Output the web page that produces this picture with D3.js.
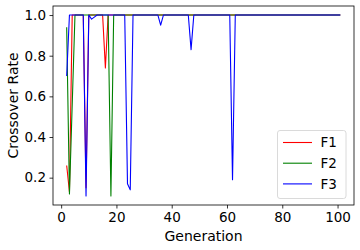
<!DOCTYPE html>
<meta charset="utf-8">

<!-- Load d3.js -->
<script src="https://d3js.org/d3.v7.js"></script>

<style>
  body { margin: 0; background: #fff; }
  text { font-family: "DejaVu Sans", sans-serif; fill: #000; }
</style>

<!-- Create a div where the graph will take place -->
<div id="my_dataviz"></div>

<script>

// generations 2..101
var generations = d3.range(2, 102)

var seriesNames = ["F1", "F2", "F3"]
var seriesColours = ["#ff0000", "#008000", "#0000ff"]

var f1Rate = [
  0.26, 0.13, 1, 1, 1, 1, 1, 0.15, 1, 1,
  1, 1, 1, 1, 0.74, 1, 1, 1, 1, 1,
  1, 1, 1, 1, 1, 1, 1, 1, 1, 1,
  1, 1, 1, 1, 1, 1, 1, 1, 1, 1,
  1, 1, 1, 1, 1, 1, 1, 1, 1, 1,
  1, 1, 1, 1, 1, 1, 1, 1, 1, 1,
  1, 1, 1, 1, 1, 1, 1, 1, 1, 1,
  1, 1, 1, 1, 1, 1, 1, 1, 1, 1,
  1, 1, 1, 1, 1, 1, 1, 1, 1, 1,
  1, 1, 1, 1, 1, 1, 1, 1, 1, 1
]

var f2Rate = [
  0.94, 0.12, 0.56, 1, 1, 1, 1, 1, 1, 1,
  1, 1, 1, 1, 1, 1, 0.11, 1, 1, 1,
  1, 1, 1, 1, 1, 1, 1, 1, 1, 1,
  1, 1, 1, 1, 1, 1, 1, 1, 1, 1,
  1, 1, 1, 1, 1, 1, 1, 1, 1, 1,
  1, 1, 1, 1, 1, 1, 1, 1, 1, 1,
  1, 1, 1, 1, 1, 1, 1, 1, 1, 1,
  1, 1, 1, 1, 1, 1, 1, 1, 1, 1,
  1, 1, 1, 1, 1, 1, 1, 1, 1, 1,
  1, 1, 1, 1, 1, 1, 1, 1, 1, 1
]

var f3Rate = [
  0.70, 1, 1, 1, 1, 1, 1, 0.11, 1, 0.98,
  0.99, 1, 1, 1, 1, 1, 1, 1, 1, 1,
  1, 1, 0.17, 0.14, 1, 1, 1, 1, 1, 1,
  1, 1, 1, 1, 0.95, 1, 1, 1, 1, 1,
  1, 1, 1, 1, 1, 0.83, 1, 1, 1, 1,
  1, 1, 1, 1, 1, 1, 1, 1, 1, 1,
  0.19, 1, 1, 1, 1, 1, 1, 1, 1, 1,
  1, 1, 1, 1, 1, 1, 1, 1, 1, 1,
  1, 1, 1, 1, 1, 1, 1, 1, 1, 1,
  1, 1, 1, 1, 1, 1, 1, 1, 1, 1
]

var xTicks = [0, 20, 40, 60, 80, 100]
var yTicks = [0.2, 0.4, 0.6, 0.8, 1.0]

var allSeries = [f1Rate, f2Rate, f3Rate]

var width = 360,
    height = 250,
    margin = {top: 6, right: 6, bottom: 45, left: 53},
    plot_w = width - margin.left - margin.right,
    plot_h = height - margin.top - margin.bottom;

// matplotlib style 5% padding
var xExt = d3.extent(generations)
var xPad = (xExt[1] - xExt[0]) * 0.05
var yExt = d3.extent([].concat(f1Rate, f2Rate, f3Rate))
var yPad = (yExt[1] - yExt[0]) * 0.05

var xScale = d3.scaleLinear()
    .domain([xExt[0] - xPad, xExt[1] + xPad])
    .range([0, plot_w]);

var yScale = d3.scaleLinear()
    .domain([yExt[0] - yPad, yExt[1] + yPad])
    .range([plot_h, 0]);

var svg = d3.select("#my_dataviz").append("svg")
    .attr("width", width)
    .attr("height", height)
  .append("g")
    .attr("transform", "translate(" + margin.left + "," + margin.top + ")");

var line = d3.line()
    .x(function(d) { return xScale(d[0]); })
    .y(function(d) { return yScale(d[1]); });

allSeries.forEach(function(vals, i) {
  svg.append("path")
    .datum(generations.map(function(g, j) { return [g, vals[j]]; }))
    .attr("fill", "none")
    .attr("stroke", seriesColours[i])
    .attr("stroke-width", 1.1)
    .attr("stroke-linejoin", "round")
    .attr("d", line);
});

var xAxis = d3.axisBottom(xScale)
    .tickValues(xTicks)
    .tickSize(3.5)
    .tickPadding(3.5)
    .tickFormat(d3.format("d"));

var yAxis = d3.axisLeft(yScale)
    .tickValues(yTicks)
    .tickSize(3.5)
    .tickPadding(3.5)
    .tickFormat(d3.format(".1f"));

var gx = svg.append("g")
  .attr("transform", "translate(0," + plot_h + ")")
  .call(xAxis);

var gy = svg.append("g")
  .call(yAxis);

[gx, gy].forEach(function(g) {
  g.select(".domain").remove();
  g.selectAll("line").attr("stroke", "#000").attr("stroke-width", 0.8);
  g.selectAll("text")
    .style("font-family", "DejaVu Sans")
    .style("font-size", "13.5px");
});

// frame
svg.append("rect")
  .attr("x", 0)
  .attr("y", 0)
  .attr("width", plot_w)
  .attr("height", plot_h)
  .attr("fill", "none")
  .attr("stroke", "#000")
  .attr("stroke-width", 0.8);

svg.append("text")
  .attr("x", plot_w / 2)
  .attr("y", 235)
  .attr("text-anchor", "middle")
  .style("font-size", "14px")
  .text("Generation");

svg.append("text")
  .attr("transform", "translate(" + (17.5 - margin.left) + "," + (plot_h / 2) + ")rotate(-90)")
  .attr("text-anchor", "middle")
  .style("font-size", "14px")
  .text("Crossover Rate");

// legend
var legX = 277.5 - margin.left,
    legY = 130.5 - margin.top;

svg.append("rect")
  .attr("x", legX)
  .attr("y", legY)
  .attr("width", 68.5)
  .attr("height", 68)
  .attr("rx", 2.5)
  .attr("fill", "#fff")
  .attr("fill-opacity", 0.8)
  .attr("stroke", "#d0d0d0")
  .attr("stroke-width", 0.8);

var legend = svg.selectAll("legend")
  .data(seriesNames)
  .enter()
  .append("g")
    .attr("transform", function(d, i) { return "translate(" + legX + "," + (legY + 12 + i * 20.7) + ")"; });

legend.append("line")
    .attr("x1", 5.5)
    .attr("x2", 34.5)
    .attr("stroke", function(d, i) { return seriesColours[i]; })
    .attr("stroke-width", 1.1);

legend.append("text")
    .attr("x", 43)
    .attr("dy", ".35em")
    .style("font-size", "13.5px")
    .text(function(d) { return d; });

</script>
